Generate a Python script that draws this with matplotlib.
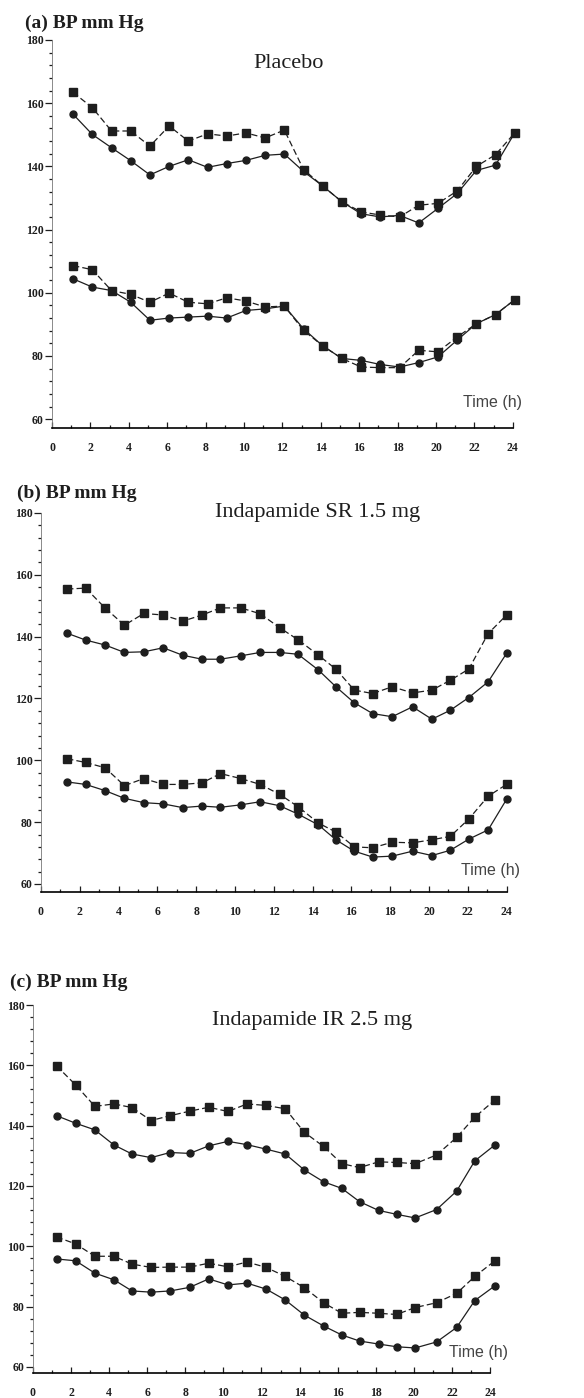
import numpy as np
import matplotlib
matplotlib.use("Agg")
import matplotlib.pyplot as plt
from matplotlib.ticker import MultipleLocator

W, H = 584, 1398

# time of each reading (h)
t_a = [1.1, 2.1, 3.1, 4.1, 5.1, 6.1, 7.1, 8.1, 9.1, 10.1, 11.1, 12.1,
       13.1, 14.1, 15.1, 16.1, 17.1, 18.1, 19.1, 20.1, 21.1, 22.1, 23.1, 24.1]
t_b = [1.35, 2.3, 3.3, 4.3, 5.3, 6.3, 7.3, 8.3, 9.25, 10.3, 11.3, 12.3,
       13.25, 14.3, 15.2, 16.15, 17.1, 18.1, 19.15, 20.15, 21.1, 22.05, 23.05, 24.0]
t_c = [1.24, 2.24, 3.25, 4.25, 5.2, 6.2, 7.2, 8.23, 9.23, 10.24, 11.24, 12.25,
       13.25, 14.25, 15.26, 16.22, 17.15, 18.15, 19.1, 20.07, 21.2, 22.25, 23.2, 24.26]

# (a) placebo
sbp_sq_a = [163.4, 158.6, 151.2, 151.2, 146.4, 152.8, 148.0, 150.3, 149.6, 150.6, 149.0, 151.5,
            139.0, 133.8, 128.8, 125.6, 124.6, 124.0, 127.7, 128.3, 132.2, 140.0, 143.7, 150.6]
sbp_ci_a = [156.5, 150.1, 145.9, 141.8, 137.3, 140.0, 142.1, 139.7, 140.9, 141.9, 143.5, 143.9,
            138.4, 133.8, 128.8, 125.0, 124.0, 124.5, 122.1, 126.7, 131.4, 138.7, 140.4, 150.6]
dbp_sq_a = [108.6, 107.3, 100.7, 99.5, 97.0, 99.9, 97.0, 96.5, 98.4, 97.4, 95.5, 95.8,
            88.1, 83.2, 79.2, 76.5, 76.3, 76.3, 81.8, 81.3, 86.0, 90.2, 93.1, 97.8]
dbp_ci_a = [104.4, 101.8, 100.7, 97.0, 91.3, 92.0, 92.3, 92.6, 92.0, 94.4, 94.9, 95.8,
            88.6, 83.2, 79.2, 78.6, 77.3, 76.5, 77.9, 79.7, 85.0, 90.2, 93.1, 97.8]

# (b) indapamide SR 1.5 mg
sbp_sq_b = [155.4, 155.7, 149.3, 143.7, 147.5, 147.0, 145.0, 147.0, 149.3, 149.3, 147.4, 142.9,
            139.0, 134.0, 129.5, 122.7, 121.6, 123.8, 121.8, 122.7, 125.9, 129.5, 141.0, 147.0]
sbp_ci_b = [141.1, 138.9, 137.3, 134.9, 135.1, 136.4, 134.0, 132.7, 132.7, 133.8, 134.9, 134.9,
            134.3, 129.2, 123.8, 118.6, 115.1, 114.1, 117.3, 113.3, 116.2, 120.3, 125.4, 134.6]
dbp_sq_b = [100.5, 99.3, 97.6, 91.8, 94.1, 92.2, 92.2, 92.7, 95.7, 94.1, 92.2, 89.0,
            85.0, 79.7, 76.8, 72.0, 71.7, 73.5, 73.3, 74.3, 75.4, 81.0, 88.4, 92.2]
dbp_ci_b = [93.0, 92.2, 90.2, 87.7, 86.3, 85.9, 84.7, 85.2, 84.8, 85.6, 86.6, 85.3,
            82.6, 79.1, 74.3, 70.6, 68.7, 69.0, 70.6, 69.2, 70.9, 74.5, 77.5, 87.4]

# (c) indapamide IR 2.5 mg
sbp_sq_c = [159.8, 153.5, 146.4, 147.2, 146.0, 141.7, 143.3, 144.8, 146.1, 144.7, 147.2, 146.7,
            145.6, 137.8, 133.1, 127.4, 126.1, 128.0, 127.8, 127.4, 130.3, 136.1, 142.8, 148.5]
sbp_ci_c = [143.3, 140.8, 138.6, 133.6, 130.6, 129.4, 131.1, 130.8, 133.3, 134.8, 133.7, 132.2,
            130.6, 125.3, 121.4, 119.2, 114.8, 111.9, 110.6, 109.4, 112.2, 118.3, 128.3, 133.6]
dbp_sq_c = [103.1, 100.8, 96.7, 96.7, 94.1, 93.0, 93.1, 93.1, 94.4, 93.2, 94.8, 93.0,
            90.0, 86.3, 81.3, 77.8, 78.1, 77.8, 77.4, 79.7, 81.3, 84.4, 90.0, 95.2]
dbp_ci_c = [95.8, 95.2, 91.1, 88.9, 85.2, 84.8, 85.2, 86.4, 89.2, 87.2, 87.8, 85.8,
            82.2, 77.2, 73.6, 70.6, 68.6, 67.6, 66.7, 66.3, 68.3, 73.1, 82.0, 86.9]

panels = [
    dict(t=t_a, s=[sbp_sq_a, sbp_ci_a, dbp_sq_a, dbp_ci_a], lab="(a) BP mm Hg", title="Placebo",
         box=(52, 40, 428), px_h=19.2, ymin=57.2, lab_xy=(25, 23), title_xy=(289, 63), time_xy=(522, 402)),
    dict(t=t_b, s=[sbp_sq_b, sbp_ci_b, dbp_sq_b, dbp_ci_b], lab="(b) BP mm Hg", title="Indapamide SR 1.5 mg",
         box=(41, 513, 892), px_h=19.4, ymin=57.4, lab_xy=(17, 493), title_xy=(318, 512), time_xy=(520, 871)),
    dict(t=t_c, s=[sbp_sq_c, sbp_ci_c, dbp_sq_c, dbp_ci_c], lab="(c) BP mm Hg", title="Indapamide IR 2.5 mg",
         box=(33, 1005, 1373), px_h=19.04, ymin=58.0, lab_xy=(10, 982), title_xy=(312, 1020), time_xy=(508, 1353)),
]

ink = "#1e1e1e"
serif = "Liberation Serif"

fig = plt.figure(figsize=(W / 100, H / 100), dpi=100)
fig.patch.set_facecolor("white")

for p in panels:
    left, top, bottom = p["box"]
    xmax = 24.6
    right = left + xmax * p["px_h"]
    ax = fig.add_axes([left / W, 1 - bottom / H, (right - left) / W, (bottom - top) / H])
    ax.set_xlim(0, xmax)
    ax.set_ylim(p["ymin"], 180)
    t = p["t"]
    sq1, ci1, sq2, ci2 = p["s"]
    for sq, ci in [(sq1, ci1), (sq2, ci2)]:
        ax.plot(t, sq, color=ink, lw=0.9, ls=(0, (5, 2.5)), marker="s", ms=5.4,
                mfc=ink, mec=ink, clip_on=False)
        ax.plot(t, ci, color=ink, lw=0.9, ls="-", marker="o", ms=5.0,
                mfc=ink, mec=ink, clip_on=False)

    for side in ["top", "right"]:
        ax.spines[side].set_visible(False)
    ax.spines["bottom"].set_bounds(0, 24)
    ax.spines["left"].set_bounds(p["ymin"], 180)
    ax.spines["bottom"].set_linewidth(1.2)
    ax.spines["left"].set_linewidth(0.6)
    ax.spines["left"].set_color("#777777")

    ax.yaxis.set_minor_locator(MultipleLocator(4))
    ax.set_yticks(range(60, 181, 20))
    ax.xaxis.set_minor_locator(MultipleLocator(1))
    ax.set_xticks(range(0, 25, 2))
    ax.tick_params(axis="y", which="major", length=5, width=0.9, pad=1, labelsize=8.5, colors=ink)
    ax.tick_params(axis="y", which="minor", length=2.5, width=0.9, colors=ink)
    ax.tick_params(axis="x", which="major", direction="in", length=4, width=0.9, pad=10,
                   labelsize=8.5, colors=ink)
    ax.tick_params(axis="x", which="minor", direction="in", length=2.5, width=0.9, colors=ink)
    for lab in ax.get_xticklabels() + ax.get_yticklabels():
        lab.set_fontfamily(serif)
        lab.set_fontweight("bold")

    fig.text(p["lab_xy"][0] / W, 1 - p["lab_xy"][1] / H, p["lab"], family=serif,
             fontsize=14, fontweight="bold", color=ink, ha="left", va="center")
    fig.text(p["title_xy"][0] / W, 1 - p["title_xy"][1] / H, p["title"], family=serif,
             fontsize=16, color=ink, ha="center", va="center")
    fig.text(p["time_xy"][0] / W, 1 - p["time_xy"][1] / H, "Time (h)", family="Liberation Sans",
             fontsize=11.5, color="#444444", ha="right", va="center")

fig.savefig("out.png", dpi=100)
